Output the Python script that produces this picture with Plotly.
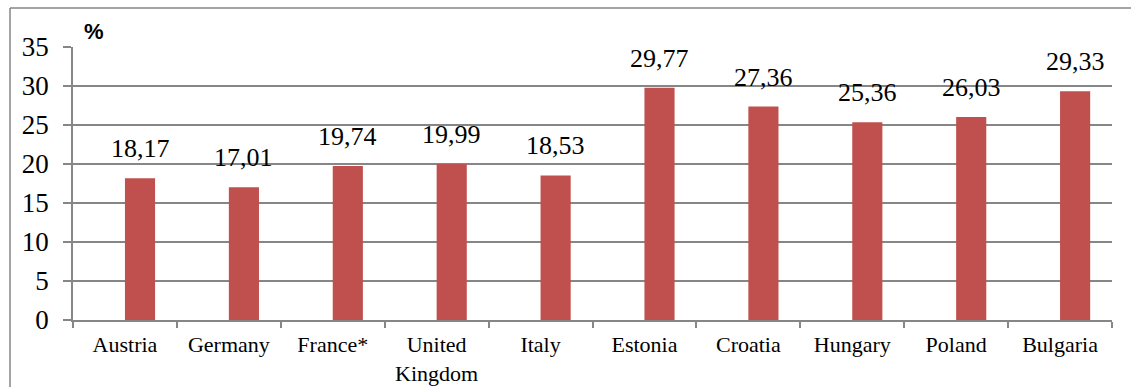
import plotly.graph_objects as go

countries = ["Austria", "Germany", "France*", "United<br>Kingdom", "Italy",
             "Estonia", "Croatia", "Hungary", "Poland", "Bulgaria"]
shares = [18.17, 17.01, 19.74, 19.99, 18.53, 29.77, 27.36, 25.36, 26.03, 29.33]
y_ticks = [0, 5, 10, 15, 20, 25, 30, 35]

GRID = "#868686"
BAR = "#C0504D"
SERIF = "Liberation Serif, Times New Roman, serif"

# plot area in pixels
L, R, T, B = 73, 1112, 47, 320
PW, PH = R - L, B - T


def px_x(p):
    return (p - L) / PW


def px_y(p):
    return (B - p) / PH


fig = go.Figure()
fig.add_trace(go.Bar(
    x=countries, y=shares,
    marker=dict(color=BAR, line=dict(width=0)),
    width=0.29, offset=0,
    hoverinfo="skip",
))

# value labels above each bar, centred on the bar
for i, (c, v) in enumerate(zip(countries, shares)):
    fig.add_annotation(
        x=i + 0.145, y=v, xref="x", yref="y",
        text=f"{v:.2f}".replace(".", ","),
        showarrow=False, yanchor="bottom", yshift=13,
        font=dict(family=SERIF, size=26, color="black"),
    )

# unit label
fig.add_annotation(
    x=px_x(82), y=px_y(46), xref="paper", yref="paper", text="<b>%</b>",
    showarrow=False, xanchor="left", yanchor="bottom",
    font=dict(family="Liberation Sans, Arial, sans-serif", size=22, color="black"),
)

# outer frame: left and top edges
frame = dict(type="line", xref="paper", yref="paper",
             line=dict(color=GRID, width=1.5), layer="below")
fig.add_shape(x0=px_x(10), x1=px_x(10), y0=px_y(390), y1=px_y(8), **frame)
fig.add_shape(x0=px_x(10), x1=px_x(1135), y0=px_y(8), y1=px_y(8), **frame)

fig.update_layout(
    width=1131, height=387,
    margin=dict(l=L, r=1131 - R, t=T, b=387 - B, autoexpand=False),
    paper_bgcolor="white", plot_bgcolor="white",
    showlegend=False,
    bargap=0.71,
    font=dict(family=SERIF, color="black"),
)
fig.update_xaxes(
    type="category", range=[-0.5, 9.5], automargin=False,
    tickson="boundaries", ticks="outside", ticklen=6, tickwidth=1.5, tickcolor=GRID,
    showline=True, linecolor=GRID, linewidth=1.5, showgrid=False,
    tickfont=dict(family=SERIF, size=22, color="black"),
    ticklabelstandoff=4,
)
fig.update_yaxes(
    range=[0, 35], tickvals=y_ticks, ticktext=[str(t) for t in y_ticks],
    automargin=False,
    ticks="outside", ticklen=8, tickwidth=1.5, tickcolor=GRID,
    showline=True, linecolor=GRID, linewidth=1.5,
    showgrid=True, gridcolor=GRID, gridwidth=1.5, zeroline=False,
    tickfont=dict(family=SERIF, size=27, color="black"),
    ticklabelstandoff=9,
)

fig.write_html("out.html")
